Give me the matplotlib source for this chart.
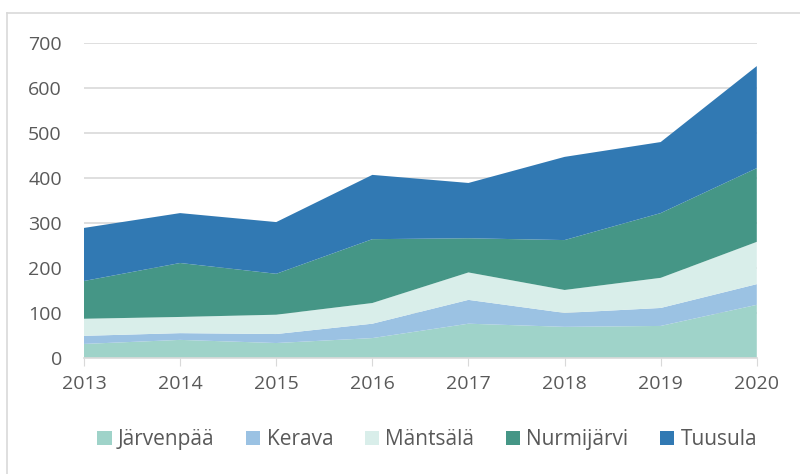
import numpy as np
import matplotlib.pyplot as plt
from matplotlib.patches import Patch
from matplotlib.lines import Line2D

years = [2013, 2014, 2015, 2016, 2017, 2018, 2019, 2020]
names = ["Järvenpää", "Kerava", "Mäntsälä", "Nurmijärvi", "Tuusula"]
jarvenpaa = [31, 40, 33, 44, 76, 69, 71, 118]
kerava = [18, 15, 20, 32, 53, 31, 40, 46]
mantsala = [38, 36, 43, 46, 61, 51, 67, 94]
nurmijarvi = [84, 120, 91, 142, 76, 111, 144, 164]
tuusula = [118, 111, 115, 143, 123, 185, 158, 227]
colors = ["#9fd3c9", "#9bc2e3", "#d9eeea", "#459686", "#3179b3"]

plt.rcParams['font.family'] = ['Open Sans', 'DejaVu Sans']
fig = plt.figure(figsize=(8, 4.74), dpi=100)
ax = fig.add_axes([0.105, 0.245, 0.841, 0.664])

ax.stackplot(years, jarvenpaa, kerava, mantsala, nurmijarvi, tuusula,
             colors=colors, linewidth=0, zorder=2)

ax.set_xlim(2013, 2020)
ax.set_ylim(0, 700)
ax.set_yticks(range(0, 701, 100))
ax.set_xticks(years)
ax.grid(axis='y', color='#d9d9d9', linewidth=1.2, zorder=0)
for s in ['top', 'right', 'left']:
    ax.spines[s].set_visible(False)
ax.spines['bottom'].set_color('#d9d9d9')
ax.spines['bottom'].set_linewidth(1.2)
ax.tick_params(axis='y', length=0, labelsize=14, labelcolor='#595959', pad=16)
ax.tick_params(axis='x', length=6, color='#d9d9d9', labelsize=14, labelcolor='#595959', pad=6)

handles = [Patch(facecolor=c, label=n) for c, n in zip(colors, names)]
fig.legend(handles=handles, loc='center', bbox_to_anchor=(0.534, 0.072), ncol=5,
           frameon=False, fontsize=15, handlelength=0.7, handleheight=0.7,
           handletextpad=0.3, columnspacing=1.5, labelcolor='#595959')

# chart border (only left and top visible in the crop)
fig.add_artist(Line2D([0.009, 0.009], [0, 0.973], color='#d9d9d9', lw=1.2))
fig.add_artist(Line2D([0.009, 1], [0.973, 0.973], color='#d9d9d9', lw=1.2))

fig.savefig("out.png", dpi=100)
